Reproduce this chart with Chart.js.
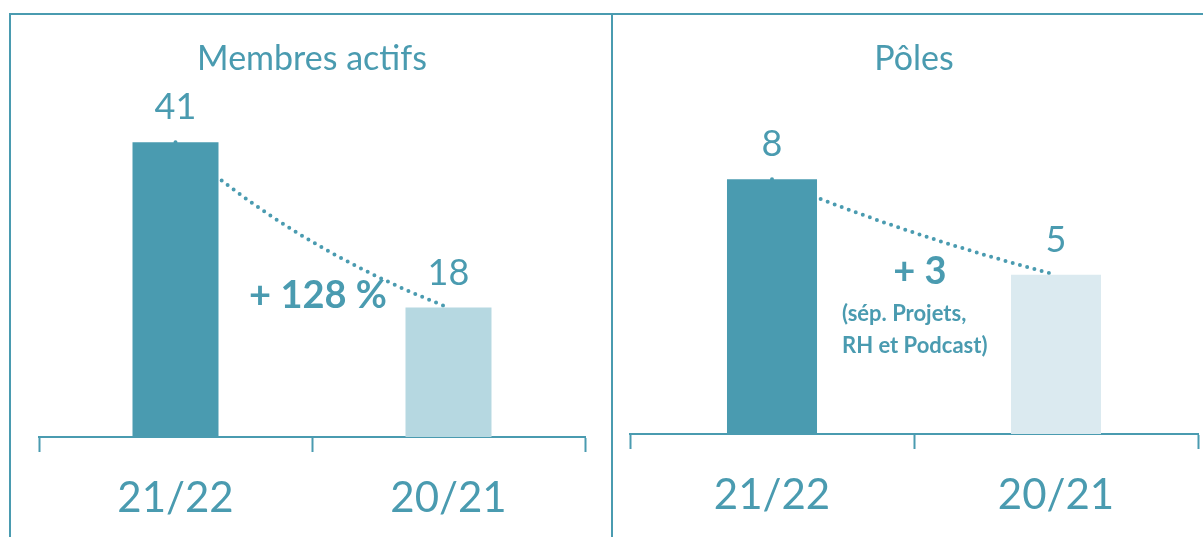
<!DOCTYPE html>
<html>
<head>
<meta charset="utf-8">
<script src="https://cdn.jsdelivr.net/npm/chart.js@4.4.1/dist/chart.umd.min.js"></script>
<style>
  body { margin: 0; width: 1203px; height: 537px; overflow: hidden; background: #fff; font-family: Lato, sans-serif; }
  .line { position: absolute; background: #4a9bb0; }
  canvas { position: absolute; }
  .note { position: absolute; color: #4a9bb0; font-weight: bold; white-space: nowrap; line-height: 1; }
</style>
</head>
<body>
<div class="line" style="left:9px; top:13px; width:1194px; height:2px;"></div>
<div class="line" style="left:9px; top:13px; width:2px; height:524px;"></div>
<div class="line" style="left:611px; top:13px; width:2px; height:524px;"></div>

<canvas id="membres" style="left:11px; top:16px;" width="600" height="521"></canvas>
<canvas id="poles" style="left:613px; top:16px;" width="590" height="521"></canvas>

<div class="note" style="left:318px; top:293px; font-size:38px; transform:translate(-50%,-50%);">+ 128 %</div>
<div class="note" style="left:920px; top:269px; font-size:38px; transform:translate(-50%,-50%);">+ 3</div>
<div class="note" style="left:842px; top:313px; font-size:22px; transform:translateY(-50%);">(sép. Projets,</div>
<div class="note" style="left:842px; top:345px; font-size:22px; transform:translateY(-50%);">RH et Podcast)</div>

<script>
// data
const seasons = ['21/22', '20/21'];
const membresActifs = [41, 18];
const poles = [8, 5];

const teal = '#4a9bb0';

// value above each bar
const valueLabels = {
    id: 'valueLabels',
    afterDatasetsDraw(chart) {
        const ctx = chart.ctx;
        const meta = chart.getDatasetMeta(0);
        const data = chart.data.datasets[0].data;
        ctx.save();
        ctx.font = '36px Lato';
        ctx.fillStyle = teal;
        ctx.textAlign = 'center';
        ctx.textBaseline = 'alphabetic';
        meta.data.forEach((bar, i) => {
            ctx.fillText(String(data[i]), bar.x, bar.y - 23);
        });
        ctx.restore();
    }
};

// dotted exponential trendline between the two bar tops (like Excel)
const trendLine = {
    id: 'trendLine',
    beforeDatasetsDraw(chart) {
        const ctx = chart.ctx;
        const meta = chart.getDatasetMeta(0);
        const data = chart.data.datasets[0].data;
        const ys = chart.scales.y;
        const a = meta.data[0], b = meta.data[1];
        ctx.save();
        ctx.beginPath();
        for (let s = 0; s <= 80; s++) {
            const t = s / 80;
            const v = data[0] * Math.pow(data[1] / data[0], t);
            const x = a.x + (b.x - a.x) * t;
            const y = ys.getPixelForValue(v);
            if (s === 0) ctx.moveTo(x, y); else ctx.lineTo(x, y);
        }
        ctx.setLineDash([0, 7.5]);
        ctx.lineCap = 'round';
        ctx.lineWidth = 4;
        ctx.strokeStyle = teal;
        ctx.stroke();
        ctx.restore();
    }
};

function makePanel(id, title, values, colors, yMax, barPct, padLeft, padRight, axisHeight) {
    return new Chart(document.getElementById(id), {
        type: 'bar',
        data: {
            labels: seasons,
            datasets: [{
                data: values,
                backgroundColor: colors,
                borderWidth: 0,
                categoryPercentage: 1,
                barPercentage: barPct
            }]
        },
        options: {
            responsive: false,
            animation: false,
            layout: { padding: { left: padLeft, right: padRight, top: 0, bottom: 0 } },
            plugins: {
                legend: { display: false },
                tooltip: { enabled: false },
                title: {
                    display: true,
                    text: title,
                    color: teal,
                    font: { family: 'Lato', size: 34, weight: 'normal', lineHeight: 1.2 },
                    padding: { top: 23, bottom: 7.8 }
                }
            },
            scales: {
                x: {
                    grid: {
                        display: true,
                        offset: true,
                        drawOnChartArea: false,
                        drawTicks: true,
                        tickLength: 15,
                        tickWidth: 2,
                        color: teal
                    },
                    border: { display: true, color: teal, width: 2 },
                    ticks: {
                        color: teal,
                        padding: 21,
                        font: { family: 'Lato', size: 42, lineHeight: 1.2 }
                    },
                    afterFit(axis) { axis.height = axisHeight; }
                },
                y: {
                    display: false,
                    min: 0,
                    max: yMax
                }
            }
        },
        plugins: [trendLine, valueLabels]
    });
}

makePanel('membres', 'Membres actifs', membresActifs, ['#4a9bb0', '#b6d8e1'], 48.59, 0.315, 28, 26, 100);
makePanel('poles', 'Pôles', poles, ['#4a9bb0', '#dbeaf0'], 10.88, 0.317, 17, 5, 103);
</script>
</body>
</html>
